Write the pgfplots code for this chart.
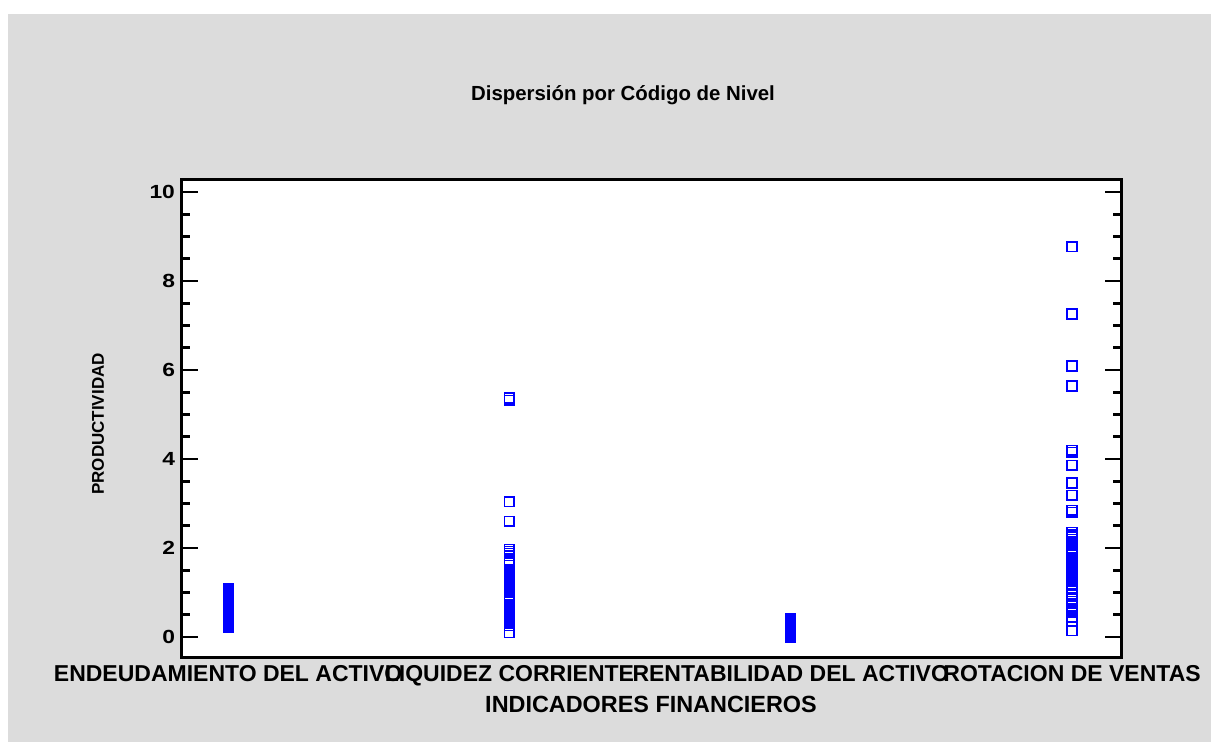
\documentclass[border=0pt]{standalone}
\usepackage{pgfplots}
\pgfplotsset{compat=1.18}
\usepackage{fontspec}
\setmainfont{Liberation Sans}
\newfontfamily\tickfont[FakeStretch=1.2]{Liberation Sans}
\definecolor{bggray}{RGB}{220,220,220}
\definecolor{mblue}{RGB}{0,0,255}
\begin{document}
\begin{tikzpicture}
\fill[white] (0pt,0pt) rectangle (605.5pt,-371pt);
\fill[bggray] (4pt,-7pt) rectangle (605.5pt,-371pt);
\node[font=\bfseries\fontsize{10.2}{12}\selectfont] at (311.5pt,-47.5pt) {Dispersión por Código de Nivel};
\node[font=\bfseries\fontsize{11.7}{13}\selectfont] at (325.5pt,-352pt) {INDICADORES FINANCIEROS};
\node[font=\bfseries\fontsize{8.5}{10}\selectfont,rotate=90] at (49pt,-212pt) {PRODUCTIVIDAD};
\begin{axis}[
  at={(91pt,-329pt)}, anchor=south west,
  scale only axis, width=469.5pt, height=239pt,
  xmin=-0.164, xmax=3.174, ymin=-0.47, ymax=10.27,
  axis background/.style={fill=white},
  axis line style={line width=1.5pt},
  xtick={0,1,2,3},
  xticklabels={ENDEUDAMIENTO DEL ACTIVO,LIQUIDEZ CORRIENTE,RENTABILIDAD DEL ACTIVO,ROTACION DE VENTAS},
  x tick label style={font=\bfseries\fontsize{11.5}{13}\selectfont, yshift=0pt},
  major x tick style={draw=none},
  ytick={0,2,4,6,8,10},
  minor y tick num=3,
  ytick pos=both,
  tick align=inside,
  y tick label style={font=\tickfont\bfseries\fontsize{9.5}{10}\selectfont},
  /pgf/number format/assume math mode=true,
  major tick length=8pt, minor tick length=4pt,
  every tick/.style={black, line width=1.4pt},
  clip=false,
]
\addplot[only marks, mark=square, mark size=2.4pt, mark options={draw=mblue, line width=0.8pt}] table[row sep=\\] {
x y\\
0 0.22\\ 0 0.25\\ 0 0.27\\ 0 0.30\\ 0 0.32\\ 0 0.35\\ 0 0.37\\ 0 0.40\\ 0 0.42\\ 0 0.45\\ 0 0.47\\ 0 0.50\\
0 0.52\\ 0 0.55\\ 0 0.57\\ 0 0.60\\ 0 0.62\\ 0 0.65\\ 0 0.67\\ 0 0.70\\ 0 0.72\\ 0 0.75\\ 0 0.77\\ 0 0.80\\
0 0.82\\ 0 0.85\\ 0 0.87\\ 0 0.90\\ 0 0.92\\ 0 0.95\\ 0 0.97\\ 0 1.00\\ 0 1.02\\ 0 1.05\\ 0 1.08\\
1 5.37\\ 1 5.32\\ 1 3.04\\ 1 2.60\\ 1 1.97\\ 1 1.93\\ 1 1.88\\ 1 1.83\\ 1 1.72\\
1 1.52\\ 1 1.48\\ 1 1.44\\ 1 1.40\\ 1 1.36\\ 1 1.32\\ 1 1.28\\ 1 1.24\\ 1 1.20\\ 1 1.16\\ 1 1.12\\ 1 1.08\\
1 1.04\\ 1 1.00\\ 1 0.94\\ 1 0.90\\ 1 0.86\\ 1 0.82\\ 1 0.78\\ 1 0.74\\ 1 0.70\\ 1 0.66\\ 1 0.62\\ 1 0.58\\
1 0.54\\ 1 0.50\\ 1 0.46\\ 1 0.42\\ 1 0.38\\ 1 0.34\\ 1 0.30\\ 1 0.26\\ 1 0.10\\
2 0.00\\ 2 0.02\\ 2 0.04\\ 2 0.06\\ 2 0.08\\ 2 0.10\\ 2 0.12\\ 2 0.14\\ 2 0.16\\ 2 0.18\\ 2 0.20\\
2 0.22\\ 2 0.24\\ 2 0.26\\ 2 0.28\\ 2 0.30\\ 2 0.32\\ 2 0.34\\ 2 0.36\\ 2 0.38\\ 2 0.40\\ 2 0.42\\
3 8.77\\ 3 7.26\\ 3 6.09\\ 3 5.64\\ 3 4.20\\ 3 4.15\\ 3 3.86\\ 3 3.46\\ 3 3.19\\ 3 2.85\\ 3 2.80\\
3 2.35\\ 3 2.30\\ 3 2.25\\ 3 2.20\\ 3 2.15\\ 3 2.10\\ 3 2.05\\ 3 2.00\\ 3 1.95\\ 3 1.90\\ 3 1.85\\
3 1.75\\ 3 1.70\\ 3 1.65\\ 3 1.60\\ 3 1.55\\ 3 1.50\\ 3 1.45\\ 3 1.40\\ 3 1.35\\ 3 1.30\\ 3 1.25\\
3 1.20\\ 3 1.15\\ 3 1.10\\ 3 0.97\\ 3 0.85\\ 3 0.80\\ 3 0.75\\ 3 0.70\\ 3 0.65\\ 3 0.60\\ 3 0.55\\
3 0.45\\ 3 0.35\\ 3 0.14\\
};
\end{axis}
\end{tikzpicture}
\end{document}
